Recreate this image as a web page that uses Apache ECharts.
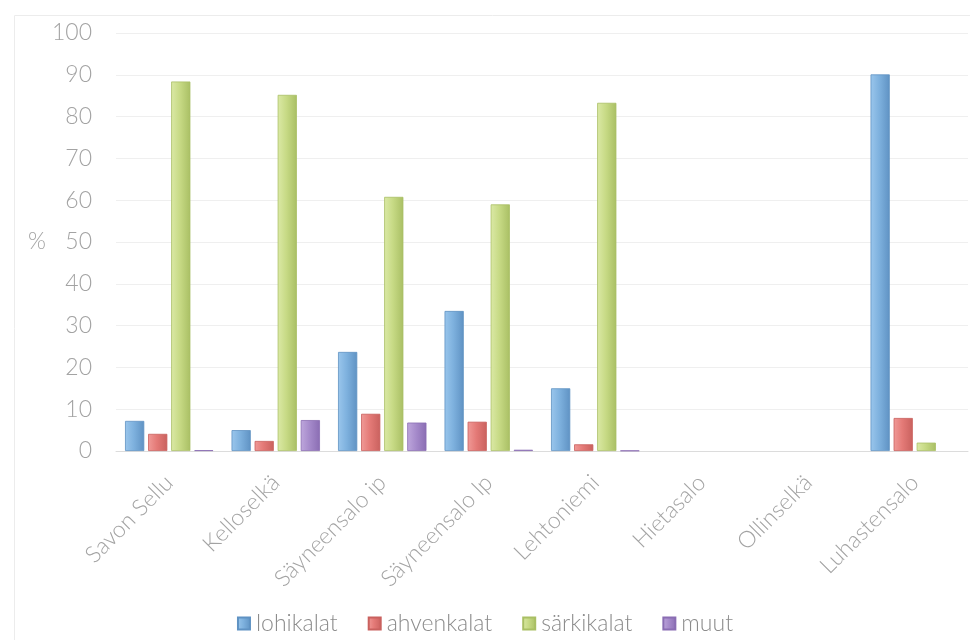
<!DOCTYPE html>
<html>
<head>
<meta charset="utf-8">
<script src="https://cdn.jsdelivr.net/npm/echarts@6/dist/echarts.min.js"></script>
<style>
  html, body { margin: 0; padding: 0; background: #fff; }
  #chart { width: 970px; height: 640px; }
</style>
</head>
<body>
<div id="chart"></div>
<script>
// Sampling sites
const categories = ['Savon Sellu', 'Kelloselkä', 'Säyneensalo ip', 'Säyneensalo lp',
  'Lehtoniemi', 'Hietasalo', 'Ollinselkä', 'Luhastensalo'];

// Share of catch by fish group (%); null = no catch recorded
const lohikalat  = [7.2, 5.0, 23.7, 33.5, 15.0, null, null, 90.1];
const ahvenkalat = [4.1, 2.4, 8.9, 7.0, 1.6, null, null, 7.9];
const sarkikalat = [88.4, 85.2, 60.8, 59.0, 83.3, null, null, 2.0];
const muut       = [0.2, 7.4, 6.8, 0.3, 0.1, null, null, null];

const seriesNames = ['lohikalat', 'ahvenkalat', 'särkikalat', 'muut'];
const seriesData = [lohikalat, ahvenkalat, sarkikalat, muut];

// light / mid / dark shades for the bevelled bar look
const palette = [
  ['#9ac6ec', '#7eb1de', '#5f92c3'],
  ['#f09a97', '#e47a77', '#c9615e'],
  ['#dbe9a6', '#c7da85', '#a9bf64'],
  ['#bea7dc', '#a68bcb', '#8a6db3']
];

const font = 'Lato, "Open Sans", sans-serif';
const textColor = '#a3a3a3';

const chart = echarts.init(document.getElementById('chart'), null, { renderer: 'canvas' });

const series = seriesNames.map((name, i) => ({
  name,
  type: 'bar',
  data: seriesData[i],
  barGap: '20%',
  barCategoryGap: '17%',
  itemStyle: {
    color: new echarts.graphic.LinearGradient(0, 0, 1, 0, [
      { offset: 0, color: palette[i][0] },
      { offset: 0.45, color: palette[i][1] },
      { offset: 1, color: palette[i][2] }
    ]),
    borderColor: palette[i][2],
    borderWidth: 0.8
  }
}));

chart.setOption({
  animation: false,
  color: palette.map(p => p[1]),
  graphic: [{
    type: 'rect',
    left: 12, top: 13,
    shape: { width: 990, height: 660 },
    style: { fill: 'none', stroke: '#ececec', lineWidth: 1 },
    silent: true
  }],
  grid: { left: 116, right: 2, top: 33, bottom: 189 },
  legend: {
    data: seriesNames,
    top: 607,
    left: 'center',
    icon: 'rect',
    itemWidth: 12,
    itemHeight: 12,
    itemGap: 30,
    textStyle: { fontFamily: font, fontWeight: 300, fontSize: 23, color: '#8c8c8c', padding: [0, 0, 0, 1] }
  },
  xAxis: {
    type: 'category',
    data: categories,
    axisTick: { show: false },
    axisLine: { lineStyle: { color: '#dcdcdc', width: 1 } },
    axisLabel: {
      rotate: 45,
      interval: 0,
      margin: 28,
      fontFamily: font,
      fontWeight: 300,
      fontSize: 23,
      color: textColor
    }
  },
  yAxis: {
    type: 'value',
    min: 0,
    max: 100,
    interval: 10,
    name: '%',
    nameLocation: 'middle',
    nameRotate: 0,
    nameGap: 70,
    nameTextStyle: { fontFamily: font, fontWeight: 300, fontSize: 23, color: textColor },
    axisLine: { show: false },
    axisTick: { show: false },
    splitLine: { lineStyle: { color: '#efefef', width: 1 } },
    axisLabel: {
      margin: 24,
      fontFamily: font,
      fontWeight: 300,
      fontSize: 23,
      color: textColor
    }
  },
  series
});
</script>
</body>
</html>
